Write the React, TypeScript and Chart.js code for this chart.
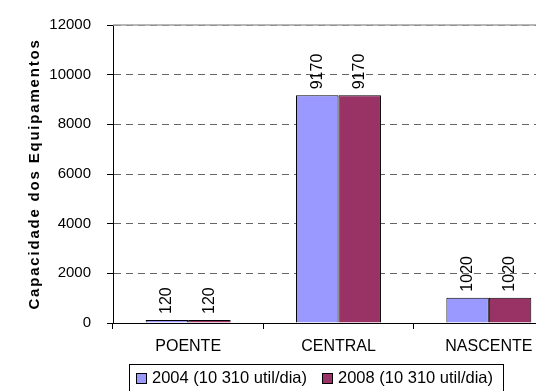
import React, { useEffect, useRef } from "react";
import { Chart, registerables } from "chart.js";

Chart.register(...registerables);

const categories = ["POENTE", "CENTRAL", "NASCENTE"];
const series2004 = [120, 9170, 1020];
const series2008 = [120, 9170, 1020];
const seriesNames = ["2004 (10 310 util/dia)", "2008 (10 310 util/dia)"];
const seriesColors = ["#9999FF", "#993366"];
const yTitle = "Capacidade dos Equipamentos";
const yMin = 0;
const yMax = 12000;
const yStep = 2000;

const FONT = "'Liberation Sans', Arial, Helvetica, sans-serif";

// Rotated value labels above each bar
const valueLabels = {
  id: "valueLabels",
  afterDatasetsDraw(chart: any) {
    const { ctx } = chart;
    ctx.save();
    ctx.font = `16px ${FONT}`;
    ctx.fillStyle = "#000";
    ctx.textAlign = "left";
    ctx.textBaseline = "middle";
    chart.data.datasets.forEach((ds: any, di: number) => {
      const meta = chart.getDatasetMeta(di);
      meta.data.forEach((bar: any, i: number) => {
        ctx.save();
        ctx.translate(bar.x, bar.y - 6);
        ctx.rotate(-Math.PI / 2);
        ctx.fillText(String(ds.data[i]), 0, 0);
        ctx.restore();
      });
    });
    ctx.restore();
  },
};

// Solid top border of the plot, vertical axis title and the framed legend
const decorations = {
  id: "decorations",
  afterDraw(chart: any) {
    const { ctx, chartArea } = chart;
    ctx.save();
    ctx.strokeStyle = "#a0a0a0";
    ctx.lineWidth = 1.5;
    ctx.beginPath();
    ctx.moveTo(chartArea.left, chartArea.top);
    ctx.lineTo(chartArea.right, chartArea.top);
    ctx.stroke();

    ctx.fillStyle = "#000";
    ctx.font = `bold 15px ${FONT}`;
    (ctx as any).letterSpacing = "1.8px";
    ctx.textAlign = "center";
    ctx.textBaseline = "middle";
    ctx.translate(27, (chartArea.top + chartArea.bottom) / 2);
    ctx.rotate(-Math.PI / 2);
    ctx.fillText(yTitle, 0, 0);
    ctx.restore();

    // legend
    ctx.save();
    ctx.font = `16.5px ${FONT}`;
    ctx.textBaseline = "middle";
    ctx.textAlign = "left";
    const box = 11;
    const gapText = 5;
    const gapItem = 15;
    const widths = chart.data.datasets.map((ds: any) => ctx.measureText(ds.label).width);
    const total = widths.reduce((a: number, w: number) => a + box + gapText + w, 0) + gapItem * (widths.length - 1);
    const centerX = 306.5;
    const top = chartArea.bottom + 41;
    const textY = top + 14;
    let x = centerX - total / 2;
    const frameLeft = x - 7;
    chart.data.datasets.forEach((ds: any, i: number) => {
      ctx.fillStyle = ds.backgroundColor;
      ctx.fillRect(Math.round(x), Math.round(textY - 5), box, box);
      ctx.strokeStyle = "#000";
      ctx.lineWidth = 1;
      ctx.strokeRect(Math.round(x) + 0.5, Math.round(textY - 5) + 0.5, box - 1, box - 1);
      ctx.fillStyle = "#000";
      ctx.fillText(ds.label, x + box + gapText, textY);
      x += box + gapText + widths[i] + gapItem;
    });
    const frameRight = x - gapItem + 10;
    ctx.strokeStyle = "#000";
    ctx.lineWidth = 1;
    ctx.strokeRect(Math.round(frameLeft) + 0.5, Math.round(top) + 0.5, Math.round(frameRight - frameLeft), 40);
    ctx.restore();
  },
};

export default function App() {
  const canvasRef = useRef<HTMLCanvasElement | null>(null);

  useEffect(() => {
    if (!canvasRef.current) return;
    const chart = new Chart(canvasRef.current, {
      type: "bar",
      data: {
        labels: categories,
        datasets: [
          {
            label: seriesNames[0],
            data: series2004,
            backgroundColor: seriesColors[0],
            borderColor: "#000",
            borderWidth: 1,
          },
          {
            label: seriesNames[1],
            data: series2008,
            backgroundColor: seriesColors[1],
            borderColor: "#000",
            borderWidth: 1,
          },
        ],
      },
      options: {
        responsive: false,
        animation: false,
        layout: { padding: { top: 17, right: 0, bottom: 39, left: 0 } },
        datasets: {
          bar: { categoryPercentage: 0.565, barPercentage: 1 },
        },
        plugins: {
          tooltip: { enabled: false },
          legend: { display: false },
        },
        scales: {
          x: {
            grid: {
              drawOnChartArea: false,
              tickLength: 6,
              tickColor: "#000",
              offset: true,
            },
            border: { color: "#000", width: 1 },
            ticks: {
              font: { family: FONT, size: 16 },
              color: "#000",
              padding: 8,
              maxRotation: 0,
            },
            afterFit(scale: any) {
              scale.height = 41;
              scale.paddingLeft = 0;
              scale.paddingRight = 0;
            },
          },
          y: {
            min: yMin,
            max: yMax,
            ticks: {
              stepSize: yStep,
              font: { family: FONT, size: 15 },
              color: "#000",
              padding: 16,
              callback: (v: any) => String(v),
            },
            grid: {
              color: "#666",
              tickColor: "#000",
              tickLength: 6,
              tickBorderDash: [],
            },
            border: { color: "#000", width: 1, dash: [7, 5] },
            afterFit(scale: any) {
              scale.width = 105;
              scale.paddingTop = 0;
              scale.paddingBottom = 0;
            },
          },
        },
      },
      plugins: [valueLabels, decorations],
    } as any);
    return () => chart.destroy();
  }, []);

  return (
    <div style={{ width: 536, height: 383, overflow: "hidden" }}>
      <canvas ref={canvasRef} width={556} height={395} style={{ width: 556, height: 395, display: "block" }} />
    </div>
  );
}
